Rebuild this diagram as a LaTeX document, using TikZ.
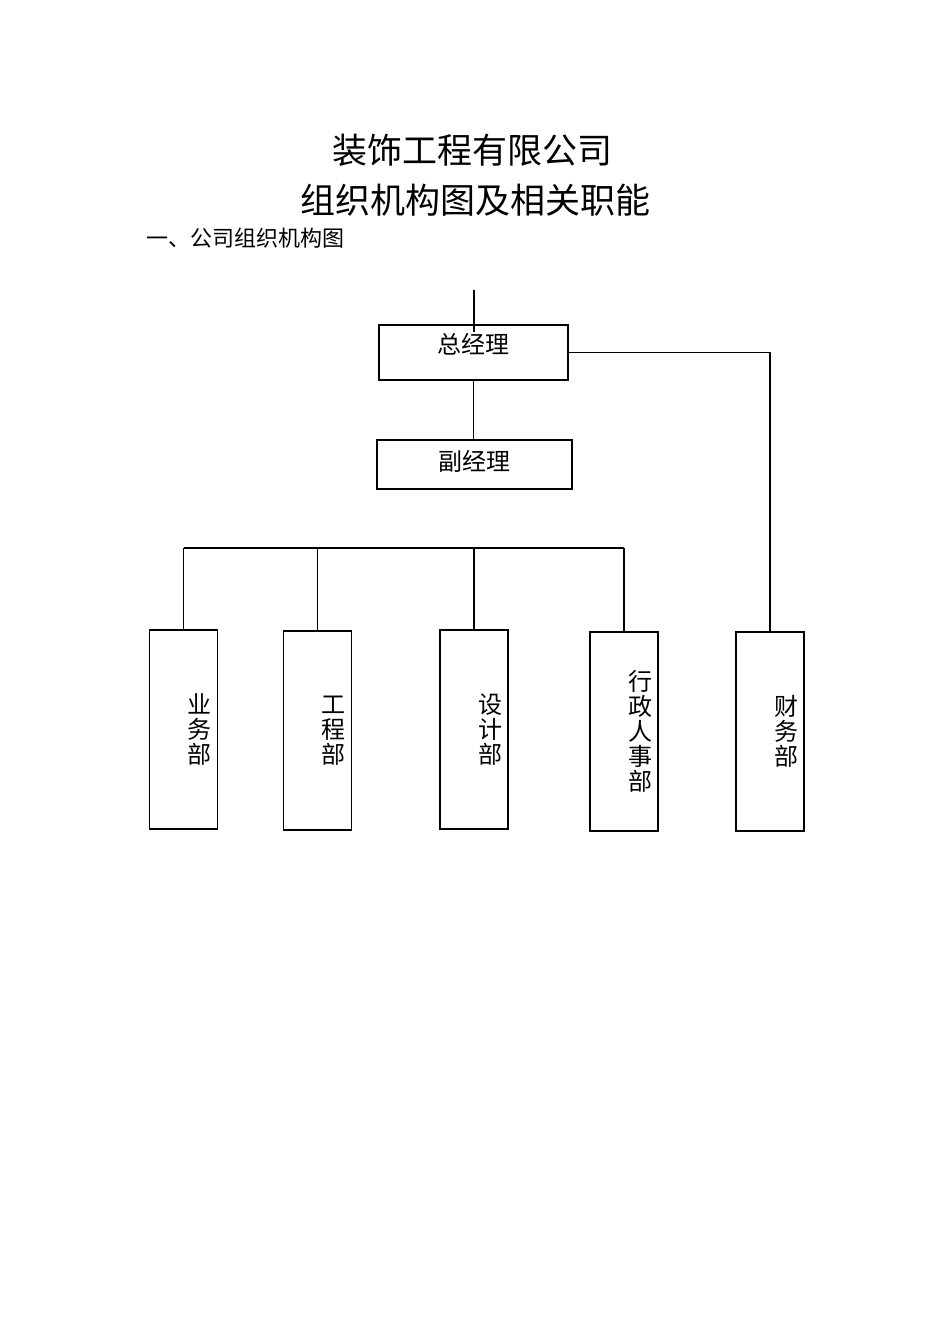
\documentclass[tikz,border=0pt]{standalone}
\usepackage{fontspec}
\setmainfont{Noto Sans CJK SC}
\usetikzlibrary{positioning}

\begin{document}
\begin{tikzpicture}[x=1pt,y=-1pt,line width=1.2pt,
headline/.style={font=\fontsize{35}{35}\selectfont},
post/.style={rectangle,draw,inner sep=0pt,font=\fontsize{24}{24}\selectfont},
dept/.style={rectangle,draw,minimum width=68pt,minimum height=199pt,
  text width=56pt,inner xsep=6pt,inner ysep=0pt,align=right,
  font=\fontsize{24}{25}\selectfont}
]
\useasboundingbox[fill=white] (0,0) rectangle (950,1344);
\node[headline] (name) at (472.5,150) {装饰工程有限公司};
\node[headline] (topic) at (475,200) {组织机构图及相关职能};
\node[anchor=west,font=\fontsize{22}{22}\selectfont] (part) at (143,238) {一、公司组织机构图};

\node[post,minimum width=189pt,minimum height=55pt,text height=16pt,text depth=14pt] (gm) at (473.5,352.5) {总经理};
\node[post,minimum width=195pt,minimum height=49pt,text height=20pt,text depth=9pt] (dgm) at (474.5,464.5) {副经理};

\node[dept] (biz) at (183.5,729.5) {业\\务\\部};
\node[dept] (eng) at (317.5,730.5) {工\\程\\部};
\node[dept] (des) at (474,729.5) {设\\计\\部};
\node[dept] (adm) at (624,731.5) {行\\政\\人\\事\\部};
\node[dept] (fin) at (770,731.5) {财\\务\\部};

\coordinate (top) at (474,290);
\coordinate (bus) at (0,548);
\draw (top) -- ++(0,42);
\draw (gm.south) -- (gm.south |- dgm.north);
\draw (gm.east) -| (fin.north);
\draw (biz.north |- bus) -- (adm.north |- bus);
\foreach \d in {biz,eng,des,adm}
  \draw (\d.north |- bus) -- (\d.north);
\end{tikzpicture}
\end{document}
